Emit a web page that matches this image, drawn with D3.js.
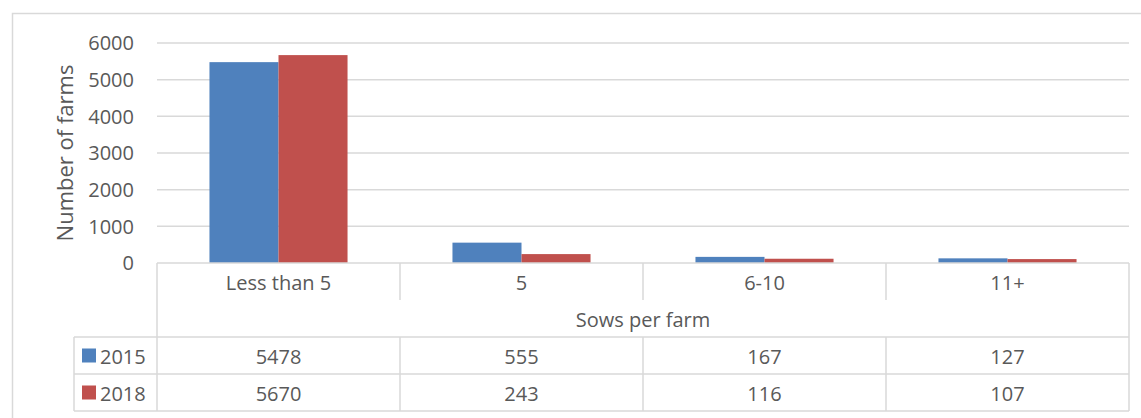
<!DOCTYPE html>
<html>
  <head>
    <meta charset='UTF-8'>
    <style>
    body { margin: 0; background: #fff; }
    svg { font-family: 'Open Sans', sans-serif; }
    text { fill: #595959; }
    </style>
  </head>
  <body>
  <script src='https://cdnjs.cloudflare.com/ajax/libs/d3/7.8.5/d3.min.js'></script>
  <script>

    var categories = ['Less than 5', '5', '6-10', '11+'];
    var seriesNames = ['2015', '2018'];
    var values2015 = [5478, 555, 167, 127];
    var values2018 = [5670, 243, 116, 107];
    var yTicks = [0, 1000, 2000, 3000, 4000, 5000, 6000];
    var colors = ['#4f81bd', '#c0504d'];

    var series = [values2015, values2018];

    var width = 1141, height = 418;
    var plotL = 157, plotR = 1129, plotT = 43, plotB = 263;
    var rowH = 37;
    var legendLeft = 74;
    var grid = '#d9d9d9';

    var svg = d3.select('body')
      .append('svg')
      .attr('width', width)
      .attr('height', height);

    // outer chart border
    svg.append('rect')
      .attr('x', 12.5).attr('y', 13.5)
      .attr('width', 1140).attr('height', 420)
      .attr('fill', 'none')
      .attr('stroke', grid)
      .attr('stroke-width', 1.5);

    var x = d3.scaleBand()
      .domain(categories)
      .range([plotL, plotR]);

    var x1 = d3.scaleBand()
      .domain(seriesNames)
      .range([0, x.bandwidth()])
      .paddingOuter(0.76);

    var y = d3.scaleLinear()
      .domain([0, 6000])
      .range([plotB, plotT]);

    // gridlines
    svg.append('g')
      .selectAll('line')
      .data(yTicks.filter(function(d) { return d > 0; }))
      .enter()
      .append('line')
      .attr('x1', plotL).attr('x2', plotR)
      .attr('y1', function(d) { return y(d); })
      .attr('y2', function(d) { return y(d); })
      .attr('stroke', grid)
      .attr('stroke-width', 1.5);

    // tick labels
    svg.append('g')
      .selectAll('text')
      .data(yTicks)
      .enter()
      .append('text')
      .attr('x', 134)
      .attr('y', function(d) { return y(d); })
      .attr('dy', '0.36em')
      .attr('text-anchor', 'end')
      .style('font-size', '20px')
      .text(function(d) { return d; });

    svg.append('text')
      .attr('transform', 'translate(65,153) rotate(-90)')
      .attr('dy', '0.36em')
      .attr('text-anchor', 'middle')
      .style('font-size', '22px')
      .text('Number of farms');

    // bars
    series.forEach(function(vals, si) {
      svg.append('g')
        .selectAll('rect')
        .data(vals)
        .enter()
        .append('rect')
        .attr('x', function(d, i) { return x(categories[i]) + x1(seriesNames[si]); })
        .attr('width', x1.bandwidth())
        .attr('y', function(d) { return y(d); })
        .attr('height', function(d) { return y(0) - y(d); })
        .attr('fill', colors[si]);
    });

    // data table
    var t = svg.append('g')
      .attr('stroke', grid)
      .attr('stroke-width', 1.5);

    t.append('line')
      .attr('x1', plotL).attr('x2', plotR)
      .attr('y1', plotB).attr('y2', plotB);
    [plotB + 2 * rowH, plotB + 3 * rowH, plotB + 4 * rowH].forEach(function(yy) {
      t.append('line')
        .attr('x1', legendLeft).attr('x2', plotR)
        .attr('y1', yy).attr('y2', yy);
    });
    // category row separators
    categories.concat(['end']).forEach(function(c, i) {
      var xx = plotL + i * x.bandwidth();
      t.append('line')
        .attr('x1', xx).attr('x2', xx)
        .attr('y1', plotB).attr('y2', plotB + rowH);
    });
    // outer sides of axis-title row
    [plotL, plotR].forEach(function(xx) {
      t.append('line')
        .attr('x1', xx).attr('x2', xx)
        .attr('y1', plotB + rowH).attr('y2', plotB + 2 * rowH);
    });
    // value row separators
    [legendLeft].concat(categories.map(function(c) { return x(c); }), [plotR]).forEach(function(xx) {
      t.append('line')
        .attr('x1', xx).attr('x2', xx)
        .attr('y1', plotB + 2 * rowH).attr('y2', plotB + 4 * rowH);
    });

    svg.append('g')
      .selectAll('text')
      .data(categories)
      .enter()
      .append('text')
      .attr('x', function(d) { return x(d) + x.bandwidth() / 2; })
      .attr('y', plotB + rowH / 2 + 1)
      .attr('dy', '0.36em')
      .attr('text-anchor', 'middle')
      .style('font-size', '20px')
      .text(function(d) { return d; });

    svg.append('text')
      .attr('x', (plotL + plotR) / 2)
      .attr('y', plotB + rowH * 1.5 + 1)
      .attr('dy', '0.36em')
      .attr('text-anchor', 'middle')
      .style('font-size', '20px')
      .text('Sows per farm');

    series.forEach(function(vals, si) {
      var rowY = plotB + (2 + si) * rowH;
      svg.append('rect')
        .attr('x', 82).attr('y', rowY + rowH / 2 - 7)
        .attr('width', 14).attr('height', 14)
        .attr('fill', colors[si]);
      svg.append('text')
        .attr('x', 100)
        .attr('y', rowY + rowH / 2 + 1)
        .attr('dy', '0.36em')
        .style('font-size', '20px')
        .text(seriesNames[si]);
      svg.append('g')
        .selectAll('text')
        .data(vals)
        .enter()
        .append('text')
        .attr('x', function(d, i) { return x(categories[i]) + x.bandwidth() / 2; })
        .attr('y', rowY + rowH / 2 + 1)
        .attr('dy', '0.36em')
        .attr('text-anchor', 'middle')
        .style('font-size', '20px')
        .text(function(d) { return d; });
    });

  </script>
  </body>
</html>
